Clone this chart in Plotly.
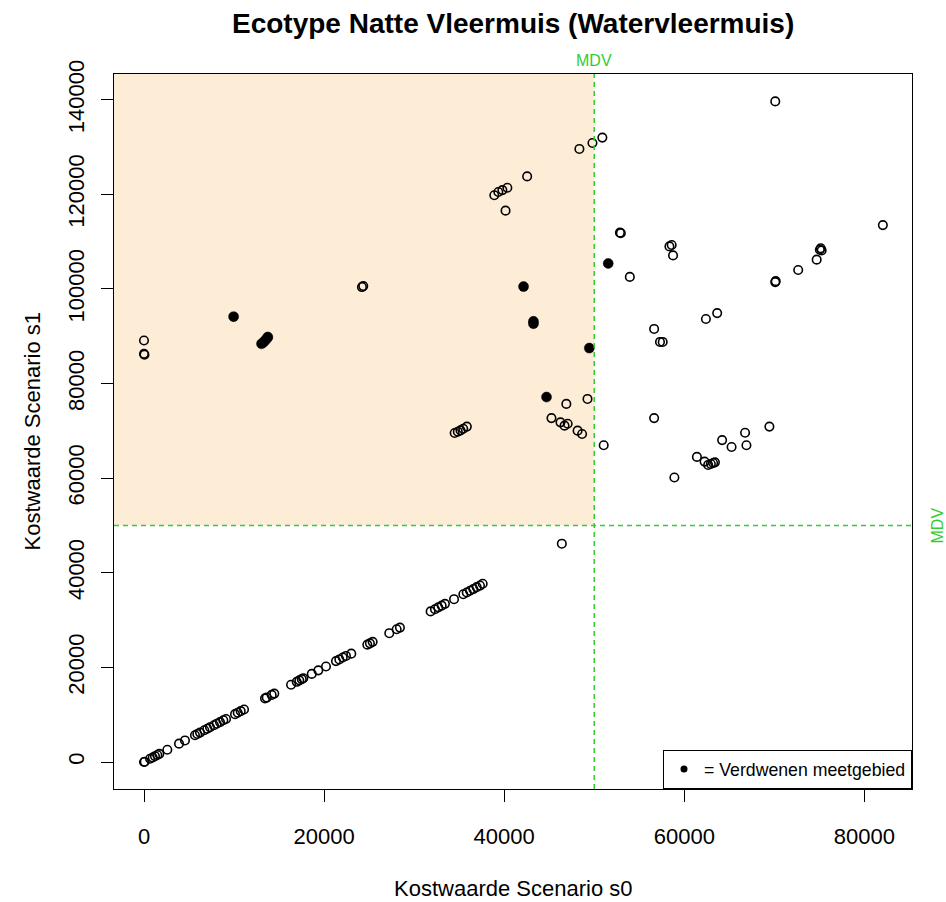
import plotly.graph_objects as go

# ---------------- data ----------------
# points with unchanged cost (on the diagonal)
diag_s0 = [0, 80, 670, 970, 1220, 1480, 1700, 2590, 3890, 4550, 5660, 5920, 6220, 6700,
           7030, 7330, 7770, 8070, 8440, 8810, 9110, 10110, 10410, 10740, 11110, 13440,
           13630, 14180, 14470, 16330, 16960, 17250, 17520, 17690, 18630, 19360, 20210,
           21320, 21690, 22070, 22430, 23020, 24800, 25090, 25390, 27240, 28060, 28420,
           31830, 32310, 32680, 33060, 33420, 34430, 35460, 35840, 36200, 36570, 36950,
           37310, 37610]
diag_s1 = [0, 60, 680, 960, 1230, 1470, 1710, 2600, 3880, 4560, 5650, 5930, 6210, 6710,
           7020, 7340, 7760, 8080, 8430, 8820, 9100, 10120, 10400, 10750, 11100, 13450,
           13620, 14190, 14460, 16340, 16950, 17260, 17510, 17700, 18620, 19370, 20200,
           21330, 21680, 22080, 22420, 22900, 24810, 25080, 25400, 27230, 28070, 28410,
           31840, 32300, 32690, 33050, 33430, 34420, 35470, 35830, 36210, 36560, 36960,
           37300, 37690]

# other measuring areas (open circles)
open_s0 = [0, 50, 0, 24200, 24350, 34500, 34850, 35150, 35450, 35850,
           38900, 39350, 39800, 40350, 40150, 42550,
           45250, 46250, 46700, 47050, 46900, 48150, 48650, 49250,
           48350, 49800, 50900, 46400, 51050, 52850, 52950, 53950,
           56650, 56650, 57300, 57600, 58350, 58600, 58750, 58900,
           61400, 62250, 62650, 62950, 63200, 63400, 62400, 63650,
           64200, 65250, 66750, 66900, 69450, 70100, 70100, 70150,
           72650, 74700, 75050, 75150, 75250, 82050]
open_s1 = [89100, 86100, 86300, 100400, 100600, 69550, 69830, 70100, 70450, 70900,
           119800, 120500, 120900, 121400, 116550, 123800,
           72700, 71800, 71100, 71500, 75700, 70050, 69350, 76750,
           129600, 130850, 132000, 46150, 66950, 111900, 111800, 102550,
           91550, 72700, 88800, 88800, 109000, 109300, 107100, 60150,
           64500, 63500, 62800, 63000, 63200, 63350, 93650, 94900,
           68050, 66600, 69600, 66950, 70900, 139650, 101450, 101650,
           104000, 106200, 108300, 108600, 108150, 113500]

# disappeared measuring areas (filled dots)
gone_s0 = [9950, 13050, 13250, 13400, 13550, 13700, 13750, 42150, 43250, 43250, 44700, 49450, 51550]
gone_s1 = [94150, 88400, 88700, 89000, 89300, 89650, 89850, 100500, 93150, 92650, 77150, 87500, 105400]

mdv = 50000
x_ticks = [0, 20000, 40000, 60000, 80000]
y_ticks = [0, 20000, 40000, 60000, 80000, 100000, 120000, 140000]
x_range = [-3331, 85286]
y_range = [-5708, 145443]

title_text = "Ecotype Natte Vleermuis (Watervleermuis)"
x_title = "Kostwaarde Scenario s0"
y_title = "Kostwaarde Scenario s1"
legend_label = "= Verdwenen meetgebied"

GREEN = "#33CC33"
FONT = "Liberation Sans, Arial, sans-serif"

# ---------------- figure ----------------
fig = go.Figure()

open_marker = dict(symbol="circle-open", size=8.5, color="black", line=dict(width=1.6, color="black"))

fig.add_trace(go.Scatter(x=diag_s0, y=diag_s1, mode="markers", marker=open_marker,
                         showlegend=False, hoverinfo="x+y"))
fig.add_trace(go.Scatter(x=open_s0, y=open_s1, mode="markers", marker=open_marker,
                         showlegend=False, hoverinfo="x+y"))
fig.add_trace(go.Scatter(x=gone_s0, y=gone_s1, mode="markers",
                         marker=dict(symbol="circle", size=10, color="black",
                                     line=dict(width=0.5, color="black")),
                         showlegend=False, hoverinfo="x+y"))
# legend entry
fig.add_trace(go.Scatter(x=[None], y=[None], mode="markers", name=legend_label,
                         marker=dict(symbol="circle", size=7, color="black"),
                         showlegend=True))

# shaded quadrant
fig.add_shape(type="rect", xref="x", yref="y", x0=x_range[0], x1=mdv, y0=mdv, y1=y_range[1],
              fillcolor="#FDEDD6", line=dict(width=0), layer="below")
# MDV lines
fig.add_shape(type="line", xref="x", yref="paper", x0=mdv, x1=mdv, y0=0, y1=1,
              line=dict(color=GREEN, width=1.5, dash="5px,4px"))
fig.add_shape(type="line", xref="paper", yref="y", x0=0, x1=1, y0=mdv, y1=mdv,
              line=dict(color=GREEN, width=1.5, dash="5px,4px"))

annotations = [
    dict(text=f"<b>{title_text}</b>", xref="paper", yref="paper", x=0.5, y=1,
         xanchor="center", yanchor="middle", yshift=51, showarrow=False,
         font=dict(size=28, color="black", family=FONT)),
    dict(text=x_title, xref="paper", yref="paper", x=0.5, y=0, xanchor="center",
         yanchor="middle", yshift=-99, showarrow=False, font=dict(size=22, color="black", family=FONT)),
    dict(text=y_title, xref="paper", yref="paper", x=0, y=0.5, xanchor="center",
         yanchor="middle", xshift=-82, textangle=-90, showarrow=False,
         font=dict(size=22, color="black", family=FONT)),
    dict(text="MDV", xref="x", yref="paper", x=mdv, y=1, xanchor="center", yanchor="middle",
         yshift=14, showarrow=False, font=dict(size=16, color=GREEN, family=FONT)),
    dict(text="MDV", xref="paper", yref="y", x=1, y=mdv, xanchor="center", yanchor="middle",
         xshift=25, textangle=-90, showarrow=False, font=dict(size=16, color=GREEN, family=FONT)),
]

axis_common = dict(showgrid=False, zeroline=False, showline=True, mirror=True,
                   linecolor="black", linewidth=1, ticks="outside", ticklen=12,
                   tickwidth=1, tickcolor="black",
                   tickfont=dict(size=22, color="black", family=FONT))

fig.update_layout(
    width=946, height=902,
    margin=dict(l=114, r=34, t=74, b=113, pad=0),
    paper_bgcolor="white", plot_bgcolor="white",
    font=dict(family=FONT, color="black"),
    xaxis=dict(range=x_range, tickvals=x_ticks, ticktext=[str(v) for v in x_ticks],
               ticklabelstandoff=16, **axis_common),
    yaxis=dict(range=y_range, tickvals=y_ticks, ticktext=[str(v) for v in y_ticks],
               tickangle=-90, ticklabelstandoff=8, **axis_common),
    legend=dict(x=1, y=0, xanchor="right", yanchor="bottom", bgcolor="white",
                bordercolor="black", borderwidth=1, font=dict(size=17.7, color="black", family=FONT),
                itemwidth=30),
    annotations=annotations,
    showlegend=True,
)

fig.write_html("out.html", config={"displayModeBar": False},
               post_script="document.body.style.margin='0px';")
